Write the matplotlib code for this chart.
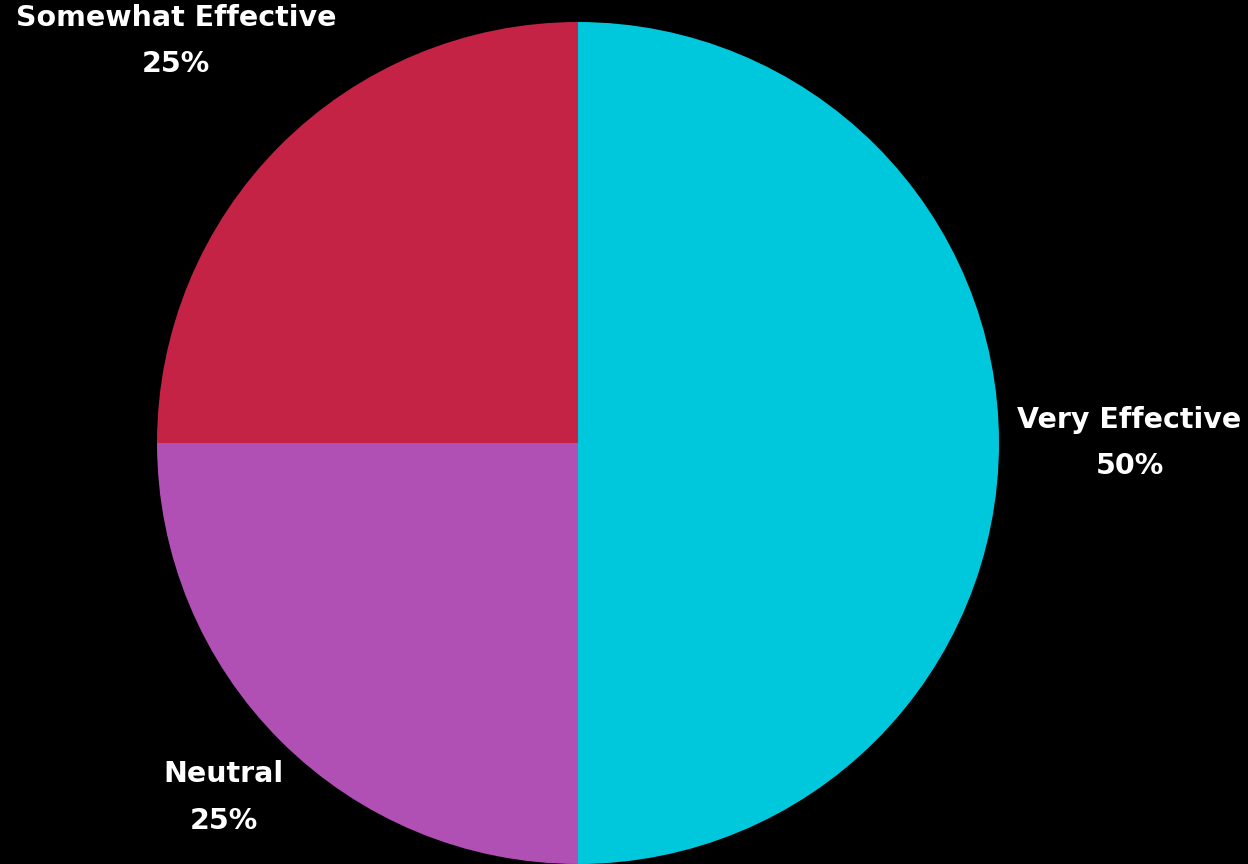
import matplotlib
matplotlib.use('Agg')
import matplotlib.pyplot as plt
import numpy as np

categories = ['Very Effective', 'Neutral', 'Somewhat Effective']
shares = [50, 25, 25]
colors = ['#00C8DC', '#B04FB4', '#C42345']
label_dist = [1.31, 1.19, 1.35]

fig = plt.figure(figsize=(12.48, 8.64), dpi=100, facecolor='black')
ax = fig.add_axes([157 / 1248, 0, 842 / 1248, 842 / 864])
ax.set_facecolor('black')

wedges, _ = ax.pie(shares, colors=colors, startangle=90, counterclock=False,
                   radius=1, wedgeprops={'linewidth': 0})

for w, name, val, d in zip(wedges, categories, shares, label_dist):
    mid = np.deg2rad((w.theta1 + w.theta2) / 2)
    ax.text(d * np.cos(mid), d * np.sin(mid), f'{name}\n{val}%',
            ha='center', va='center', color='white', fontsize=20.5,
            fontweight='bold', family='DejaVu Sans', linespacing=1.85)

ax.set_xlim(-1, 1)
ax.set_ylim(-1, 1)
ax.set_aspect('equal')
ax.axis('off')

plt.savefig('out.png', dpi=100, facecolor='black')
plt.close()
